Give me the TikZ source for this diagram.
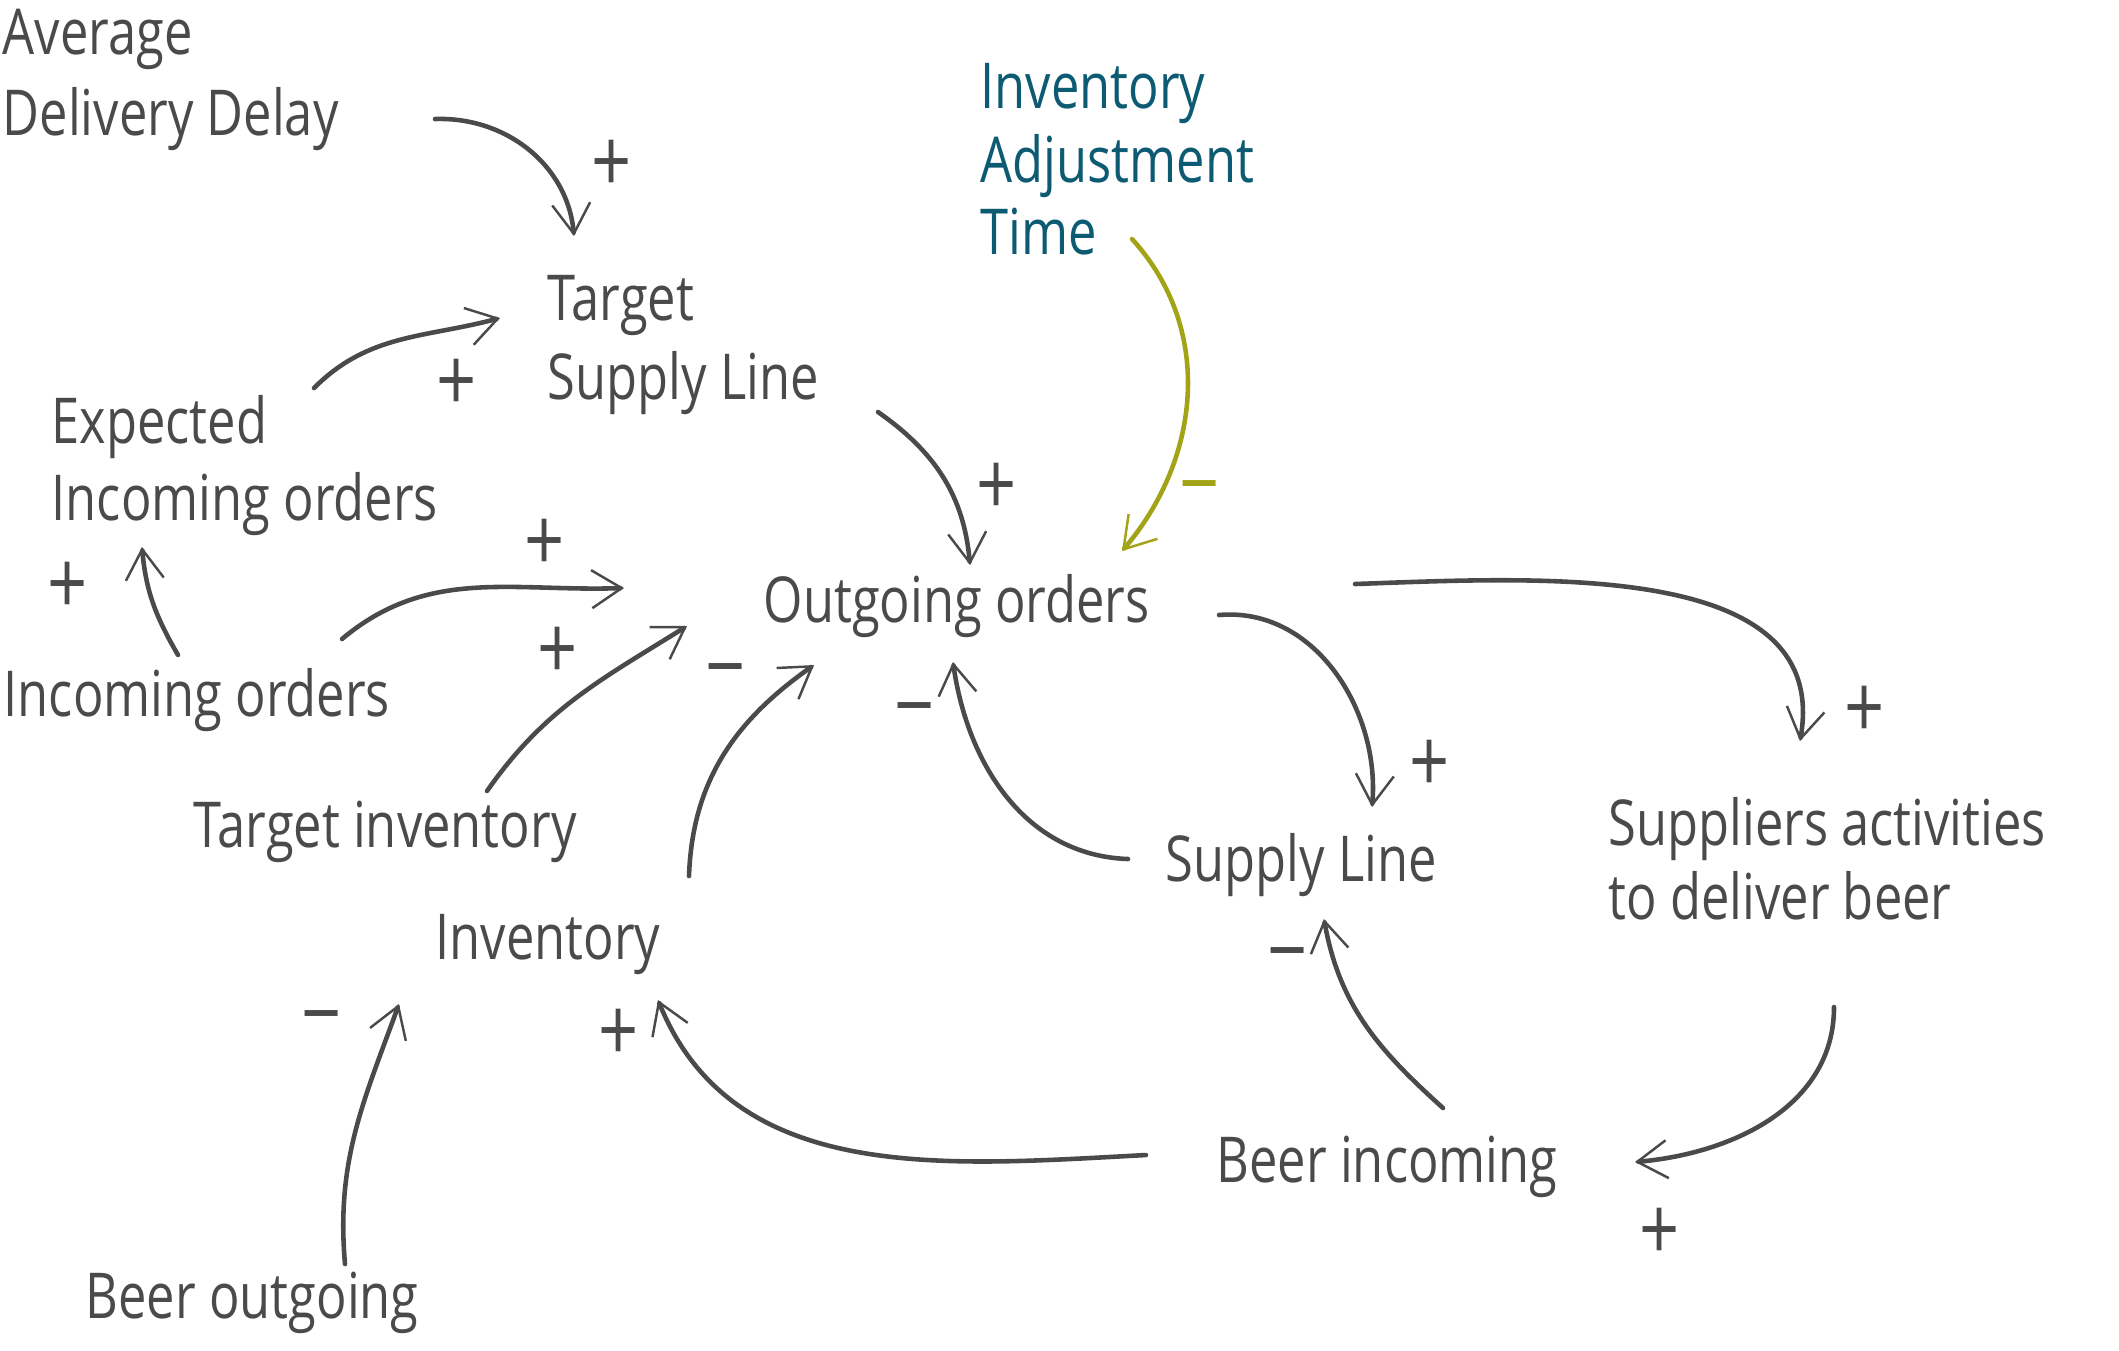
\documentclass[tikz,border=0pt]{standalone}
\usepackage{fontspec}
\setmainfont{Open Sans}[FakeStretch=0.8]
\usetikzlibrary{arrows.meta}
\definecolor{ink}{HTML}{4A4A4A}
\definecolor{iatcol}{HTML}{0D5A73}
\definecolor{olivecol}{HTML}{A3A318}
\begin{document}
\begin{tikzpicture}[x=0.01cm,y=-0.01cm,
  lbl/.style={font=\fontsize{18}{21}\selectfont, text=ink, inner sep=0, anchor=base west},
  sgn/.style={font=\fontsize{25}{26}\selectfont, text=ink, inner sep=0},
  link/.style={draw=ink, line width=1.3pt, line cap=round,
    -{Straight Barb[length=0.3cm,width=0.38cm,line width=0.7pt]}}]
\useasboundingbox (0,0) rectangle (2119,1350);
% concept labels
\node[lbl] (avg1) at (2,54) {Average};
\node[lbl] (avg2) at (2,135) {Delivery Delay};
\node[lbl,text=iatcol] (iat1) at (980,108) {Inventory};
\node[lbl,text=iatcol] (iat2) at (980,182) {Adjustment};
\node[lbl,text=iatcol] (iat3) at (980,254) {Time};
\node[lbl] (tsl1) at (547,320) {Target};
\node[lbl] (tsl2) at (547,399) {Supply Line};
\node[lbl] (eio1) at (51,443) {Expected};
\node[lbl] (eio2) at (51,520) {Incoming orders};
\node[lbl] (oo) at (763,622) {Outgoing orders};
\node[lbl] (io) at (3,716) {Incoming orders};
\node[lbl] (ti) at (193,847) {Target inventory};
\node[lbl] (sl) at (1165,881) {Supply Line};
\node[lbl] (sa1) at (1608,845) {Suppliers activities};
\node[lbl] (sa2) at (1608,919) {to deliver beer};
\node[lbl] (inv) at (435,959) {Inventory};
\node[lbl] (bi) at (1216,1182) {Beer incoming};
\node[lbl] (bo) at (85,1318) {Beer outgoing};
% connector end points
\coordinate (avgO) at (435,119);  \coordinate (tslIa) at (574,236);
\coordinate (eioO) at (314,388);  \coordinate (tslIb) at (500,318);
\coordinate (ioOa) at (178,655);  \coordinate (eioI) at (142,547);
\coordinate (ioOb) at (342,639);  \coordinate (ooIa) at (624,588);
\coordinate (tiO) at (487,791);   \coordinate (ooIb) at (687,626);
\coordinate (invO) at (689,876);  \coordinate (ooIc) at (814,665);
\coordinate (tslO) at (878,412);  \coordinate (ooId) at (970,565);
\coordinate (iatO) at (1132,239); \coordinate (ooIe) at (1122,551);
\coordinate (slO) at (1128,859);  \coordinate (ooIf) at (953,662);
\coordinate (ooOa) at (1219,615); \coordinate (slIa) at (1372,807);
\coordinate (ooOb) at (1355,584); \coordinate (saI) at (1800,741);
\coordinate (saO) at (1834,1007); \coordinate (biI) at (1635,1162);
\coordinate (biOa) at (1443,1108);\coordinate (slIb) at (1324,919);
\coordinate (biOb) at (1146,1155);\coordinate (invIa) at (658,1000);
\coordinate (boO) at (345,1264);  \coordinate (invIb) at (399,1004);
% connectors
\draw[link] (avgO) to[out=2,in=95] (tslIa);
\draw[link] (eioO) to[out=45,in=195] (tslIb);
\draw[link] (ioOa) to[out=120,in=-85] (eioI);
\draw[link] (ioOb) to[out=40,in=182] (ooIa);
\draw[link] (tiO) to[out=55,in=212] (ooIb);
\draw[link] (invO) to[out=88,in=215] (ooIc);
\draw[link] (tslO) to[out=-35,in=95] (ooId);
\draw[link,draw=olivecol] (iatO) .. controls (1215,330) and (1200,460) .. (ooIe);
\draw[link] (slO) to[out=178,in=-82] (ooIf);
\draw[link] (ooOa) to[out=5,in=85] (slIa);
\draw[link] (ooOb) to[out=2,in=80] (saI);
\draw[link] (saO) to[out=-90,in=5] (biI);
\draw[link] (biOa) to[out=138,in=-80] (slIb);
\draw[link] (biOb) to[out=183,in=-68] (invIa);
\draw[link] (boO) to[out=95,in=-110] (invIb);
% polarity signs
\node[sgn] (s1) at (612,166) {+};
\node[sgn] (s2) at (457,385) {+};
\node[sgn] (s3) at (68,588) {+};
\node[sgn] (s4) at (545,545) {+};
\node[sgn] (s5) at (558,653) {+};
\node[sgn] (s6) at (726,680) {−};
\node[sgn] (s7) at (997,489) {+};
\node[sgn,text=olivecol] (s8) at (1200,497) {−};
\node[sgn] (s9) at (915,719) {−};
\node[sgn] (s10) at (1430,766) {+};
\node[sgn] (s11) at (1865,712) {+};
\node[sgn] (s12) at (1660,1234) {+};
\node[sgn] (s13) at (1288,964) {−};
\node[sgn] (s14) at (619,1035) {+};
\node[sgn] (s15) at (322,1027) {−};
\end{tikzpicture}
\end{document}
